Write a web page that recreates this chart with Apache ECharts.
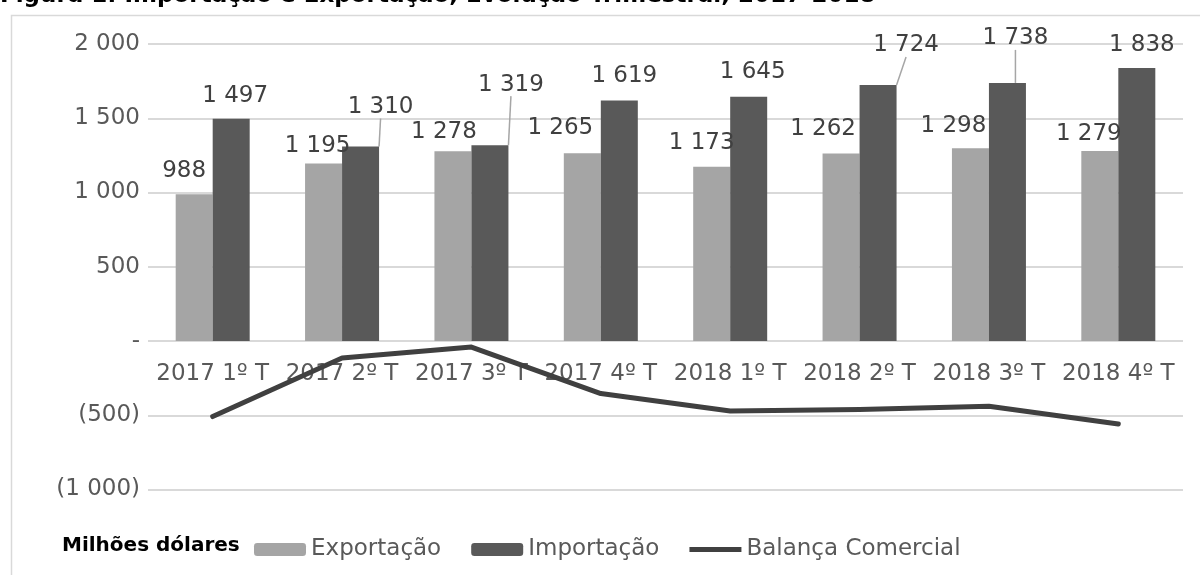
<!DOCTYPE html>
<html>
<head>
<meta charset="utf-8">
<style>
  html, body { margin: 0; padding: 0; background: #fff; }
  #chart { width: 1200px; height: 575px; }
</style>
<script src="https://cdn.jsdelivr.net/npm/echarts@6/dist/echarts.min.js"></script>
</head>
<body>
<div id="chart"></div>
<script>
// data
var quarters = ['2017 1º T', '2017 2º T', '2017 3º T', '2017 4º T', '2018 1º T', '2018 2º T', '2018 3º T', '2018 4º T'];
var exportacao = [988, 1195, 1278, 1265, 1173, 1262, 1298, 1279];
var importacao = [1497, 1310, 1319, 1619, 1645, 1724, 1738, 1838];
var balanca = [-509, -115, -41, -354, -472, -462, -440, -559];
var yTicks = { min: -1000, max: 2000, step: 500 };

// label nudges (dx, dy) as placed in the original, and which ones get a leader line
var expNudge = [[-10, 0], [-6, 6], [-9, 4], [-22, -2], [-10, 0], [-18, -1], [-17, 1], [-11, 6]];
var impNudge = [[4, 1], [20, -16], [21, -37], [5, -1], [4, -1], [28, -16], [8, -21], [5, 0]];
var impLeader = [false, true, true, false, false, true, true, false];

var font = 'DejaVu Sans';
var ink = '#404040';
var muted = '#595959';
var rule = '#d9d9d9';

function fmt(v) {
  var s = String(Math.abs(v)).replace(/\B(?=(\d{3})+(?!\d))/g, ' ');
  if (v === 0) return '-';
  return v < 0 ? '(' + s + ')' : s;
}

var chart = echarts.init(document.getElementById('chart'), null, { renderer: 'canvas' });

chart.setOption({
  animation: false,
  backgroundColor: '#fff',
  textStyle: { fontFamily: font },
  graphic: [
    {
      type: 'rect', left: 9, top: 13, z: -1,
      shape: { width: 1400, height: 800 },
      style: { fill: 'none', stroke: rule, lineWidth: 1.5 }
    },
    {
      type: 'text', x: 0, y: -4,
      style: {
        text: 'Figura 1: Importação e Exportação, Evolução Trimestral, 2017-2018',
        font: 'bold 23px "DejaVu Sans"', fill: '#000', verticalAlign: 'middle'
      }
    },
    {
      type: 'text', x: 62, y: 546,
      style: {
        text: 'Milhões dólares',
        font: 'bold 20px "DejaVu Sans"', fill: '#000', verticalAlign: 'middle'
      }
    }
  ],
  legend: {
    left: 249,
    top: 533,
    itemWidth: 52,
    itemHeight: 13,
    itemGap: 30,
    textStyle: { color: muted, fontSize: 23, fontFamily: font },
    data: [
      'Exportação',
      'Importação',
      { name: 'Balança Comercial', icon: 'path://M0,0H100V10H0Z', itemStyle: { color: '#404040' } }
    ]
  },
  grid: { left: 148, right: 17, top: 44, bottom: 85.5 },
  xAxis: {
    type: 'category',
    data: quarters,
    // labels sit just under the zero line, as in the original
    axisLine: { show: false, onZero: false },
    axisTick: { show: false },
    axisLabel: { color: muted, fontSize: 23, margin: -127, interval: 0 }
  },
  yAxis: {
    type: 'value',
    min: yTicks.min,
    max: yTicks.max,
    interval: yTicks.step,
    axisLine: { show: false },
    axisTick: { show: false },
    axisLabel: { color: muted, fontSize: 23, margin: 8, formatter: fmt },
    splitLine: { lineStyle: { color: rule, width: 2 } }
  },
  series: [
    {
      name: 'Exportação',
      type: 'bar',
      barWidth: 37,
      barGap: '0%',
      itemStyle: { color: '#a5a5a5' },
      label: { show: true, position: 'top', distance: 12, color: ink, fontSize: 23, formatter: function(p) { return fmt(p.value); } },
      labelLayout: function(p) { return { dx: expNudge[p.dataIndex][0], dy: expNudge[p.dataIndex][1] }; },
      data: exportacao
    },
    {
      name: 'Importação',
      type: 'bar',
      barWidth: 37,
      barGap: '0%',
      itemStyle: { color: '#595959' },
      label: { show: true, position: 'top', distance: 12, color: ink, fontSize: 23, formatter: function(p) { return fmt(p.value); } },
      labelLine: { show: false, lineStyle: { color: '#a6a6a6', width: 1.5 } },
      labelLayout: function(p) { return { dx: impNudge[p.dataIndex][0], dy: impNudge[p.dataIndex][1] }; },
      data: importacao.map(function(v, i) {
        return impLeader[i] ? { value: v, labelLine: { show: true, lineStyle: { color: '#a6a6a6', width: 1.5 } } } : v;
      })
    },
    {
      name: 'Balança Comercial',
      type: 'line',
      symbol: 'none',
      z: 5,
      lineStyle: { color: '#404040', width: 5, cap: 'round', join: 'round' },
      itemStyle: { color: '#404040' },
      data: balanca
    }
  ]
});

window.addEventListener('resize', function() { chart.resize(); });
</script>
</body>
</html>
